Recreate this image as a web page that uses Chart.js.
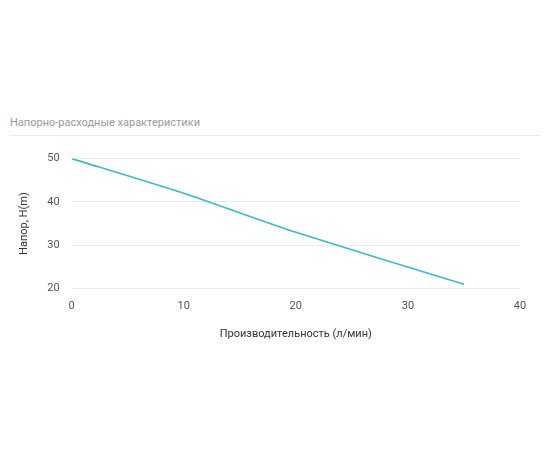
<!DOCTYPE html>
<html>
<head>
<meta charset="utf-8">
<script src="https://cdn.jsdelivr.net/npm/chart.js@4"></script>
<style>
  body { margin: 0; background: #fff; font-family: Roboto, sans-serif; }
  #title { position: absolute; left: 10px; top: 116px; width: 530px; font-size: 11px; color: #9a9a9a;
           padding-bottom: 6px; border-bottom: 1px solid #ececec; }
  #wrap { position: absolute; left: 0; top: 140px; width: 550px; height: 205px; }
</style>
</head>
<body>
<div id="title">Напорно-расходные характеристики</div>
<div id="wrap"><canvas id="pumpChart"></canvas></div>
<script>
const flowValues = [0, 10, 20, 35];
const headValues = [50, 42, 33, 21];
const xTicks = [0, 10, 20, 30, 40];
const yTicks = [20, 30, 40, 50];

const points = flowValues.map((x, i) => ({ x: x, y: headValues[i] }));

new Chart(document.getElementById('pumpChart'), {
    type: 'line',
    data: {
        datasets: [{
            data: points,
            borderColor: '#3fb8c9',
            borderWidth: 1.7,
            pointRadius: 0,
            tension: 0.2,
            fill: false
        }]
    },
    options: {
        responsive: true,
        maintainAspectRatio: false,
        animation: false,
        layout: { padding: { top: 14, right: 30, left: 14 } },
        plugins: { legend: { display: false }, tooltip: { enabled: false } },
        scales: {
            x: {
                type: 'linear', min: 0, max: 40,
                afterBuildTicks: axis => { axis.ticks = xTicks.map(v => ({ value: v })); },
                grid: { display: false },
                border: { display: false },
                ticks: { color: '#555', font: { size: 11, family: 'Roboto' } },
                title: { display: true, text: 'Производительность (л/мин)', color: '#333',
                         font: { size: 11, family: 'Roboto' }, padding: { top: 12 } }
            },
            y: {
                min: 20, max: 50,
                afterBuildTicks: axis => { axis.ticks = yTicks.map(v => ({ value: v })); },
                grid: { color: '#ececec', drawTicks: false },
                border: { display: false },
                ticks: { color: '#555', padding: 12, font: { size: 11, family: 'Roboto' } },
                title: { display: true, text: 'Напор, H(m)', color: '#333',
                         font: { size: 11, family: 'Roboto' } }
            }
        }
    }
});
</script>
</body>
</html>
